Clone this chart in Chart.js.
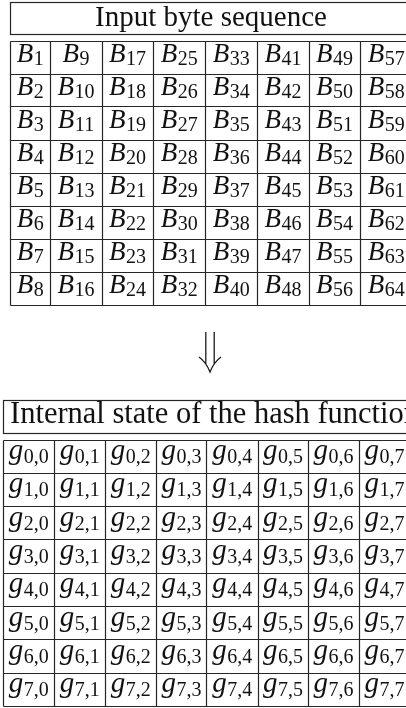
<!DOCTYPE html>
<html>
<head>
<meta charset="utf-8">
<script src="https://cdn.jsdelivr.net/npm/chart.js@4.4.1/dist/chart.umd.min.js"></script>
<style>
  html, body { margin: 0; padding: 0; background: #fff; }
  canvas { display: block; }
</style>
</head>
<body>
<canvas id="hashChart" width="406" height="708"></canvas>
<script>
const topTitle = "Input byte sequence";
const bottomTitle = "Internal state of the hash function";

// byte numbers, read row by row (column-major fill of the 8x8 block)
const byteRows = [
  [1, 9, 17, 25, 33, 41, 49, 57],
  [2, 10, 18, 26, 34, 42, 50, 58],
  [3, 11, 19, 27, 35, 43, 51, 59],
  [4, 12, 20, 28, 36, 44, 52, 60],
  [5, 13, 21, 29, 37, 45, 53, 61],
  [6, 14, 22, 30, 38, 46, 54, 62],
  [7, 15, 23, 31, 39, 47, 55, 63],
  [8, 16, 24, 32, 40, 48, 56, 64],
];
const stateRows = ["0", "1", "2", "3", "4", "5", "6", "7"];
const stateCols = ["0", "1", "2", "3", "4", "5", "6", "7"];

// layout, in canvas pixels
const topCols = [10, 50, 101.5, 153, 205, 257, 308.5, 360, 412];
const topTitleBox = [2, 34];
const topGridTop = 40.5;
const topRowH = 33;
const botCols = [3, 54, 105, 156, 206.5, 257.5, 308, 358.5, 410];
const botTitleBox = [400, 433];
const botGridTop = 439.5;
const botRowH = 33.3;
// double arrow between the tables
const arrow = { x: 210, top: 332, gap: 4.2, armY: 357, armW: 11, tip: 372 };

const serif = '"Liberation Serif", "Times New Roman", serif';
const lineColor = "#262626";

const cellStyle = {
  bytes: { main: "italic 27px " + serif, sub: "20px " + serif, base: 5, drop: 3 },
  state: { main: "italic 29px " + serif, sub: "20px " + serif, base: 3, drop: 4 },
};

const mid = (a, b) => (a + b) / 2;

const byteCells = [];
byteRows.forEach((row, r) => {
  row.forEach((n, c) => {
    byteCells.push({
      x: mid(topCols[c], topCols[c + 1]),
      y: topGridTop + (r + 0.5) * topRowH,
      main: "B",
      sub: String(n),
    });
  });
});

const stateCells = [];
stateRows.forEach((i) => {
  stateCols.forEach((j, c) => {
    stateCells.push({
      x: mid(botCols[c], botCols[c + 1]),
      y: botGridTop + (Number(i) + 0.5) * botRowH,
      main: "g",
      sub: i + "," + j,
    });
  });
});

const drawSub = (ctx, d, x, y, style) => {
  ctx.font = style.main;
  const w1 = ctx.measureText(d.main).width;
  ctx.font = style.sub;
  const w2 = ctx.measureText(d.sub).width;
  const x0 = x - (w1 + w2) / 2;
  ctx.textAlign = "left";
  ctx.textBaseline = "alphabetic";
  ctx.font = style.main;
  ctx.fillText(d.main, x0, y + style.base);
  ctx.font = style.sub;
  ctx.fillText(d.sub, x0 + w1 + 0.5, y + style.base + style.drop);
};

const tablePlugin = {
  id: "tables",
  afterDatasetsDraw(chart) {
    const ctx = chart.ctx;
    const xs = chart.scales.x;
    const ys = chart.scales.y;
    const px = (v) => Math.round(xs.getPixelForValue(v)) + 0.5;
    const py = (v) => Math.round(ys.getPixelForValue(v)) + 0.5;
    const fx = (v) => xs.getPixelForValue(v);
    const fy = (v) => ys.getPixelForValue(v);

    ctx.save();
    ctx.strokeStyle = lineColor;
    ctx.lineWidth = 1.2;

    const grid = (cols, titleBox, gridTop, rowH) => {
      const l = px(cols[0]);
      const r = px(cols[cols.length - 1]);
      ctx.strokeRect(l, py(titleBox[0]), r - l, py(titleBox[1]) - py(titleBox[0]));
      const bottom = gridTop + 8 * rowH;
      ctx.beginPath();
      for (let k = 0; k <= 8; k++) {
        const y = py(gridTop + k * rowH);
        ctx.moveTo(l, y);
        ctx.lineTo(r, y);
      }
      cols.forEach((c) => {
        ctx.moveTo(px(c), py(gridTop));
        ctx.lineTo(px(c), py(bottom));
      });
      ctx.stroke();
    };
    grid(topCols, topTitleBox, topGridTop, topRowH);
    grid(botCols, botTitleBox, botGridTop, botRowH);

    // arrow
    ctx.lineWidth = 1.3;
    ctx.strokeStyle = "#1a1a1a";
    ctx.beginPath();
    ctx.moveTo(fx(arrow.x - arrow.gap), fy(arrow.top));
    ctx.lineTo(fx(arrow.x - arrow.gap), fy(arrow.tip - 8));
    ctx.moveTo(fx(arrow.x + arrow.gap), fy(arrow.top));
    ctx.lineTo(fx(arrow.x + arrow.gap), fy(arrow.tip - 8));
    ctx.moveTo(fx(arrow.x - arrow.armW), fy(arrow.armY));
    ctx.quadraticCurveTo(fx(arrow.x - 4), fy(arrow.armY + 5), fx(arrow.x), fy(arrow.tip));
    ctx.quadraticCurveTo(fx(arrow.x + 4), fy(arrow.armY + 5), fx(arrow.x + arrow.armW), fy(arrow.armY));
    ctx.stroke();

    ctx.fillStyle = "#111";
    ctx.font = "29px " + serif;
    ctx.textBaseline = "alphabetic";
    ctx.textAlign = "center";
    ctx.fillText(topTitle, fx(mid(topCols[0], topCols[8])), fy(26));
    ctx.textAlign = "left";
    ctx.font = "30.5px " + serif;
    ctx.fillText(bottomTitle, fx(10), fy(423));

    chart.data.datasets.forEach((ds, di) => {
      const meta = chart.getDatasetMeta(di);
      const style = cellStyle[ds.label];
      meta.data.forEach((pt, i) => drawSub(ctx, ds.data[i], pt.x, pt.y, style));
    });
    ctx.restore();
  },
};

const config = {
  type: "scatter",
  data: {
    datasets: [
      { label: "bytes", data: byteCells, pointRadius: 0 },
      { label: "state", data: stateCells, pointRadius: 0 },
    ],
  },
  options: {
    responsive: false,
    animation: false,
    layout: { padding: 0 },
    scales: {
      x: { type: "linear", min: 0, max: 406, display: false },
      y: { type: "linear", min: 0, max: 708, reverse: true, display: false },
    },
    plugins: {
      legend: { display: false },
      tooltip: { enabled: false },
    },
  },
  plugins: [tablePlugin],
};

new Chart(document.getElementById("hashChart"), config);
</script>
</body>
</html>
